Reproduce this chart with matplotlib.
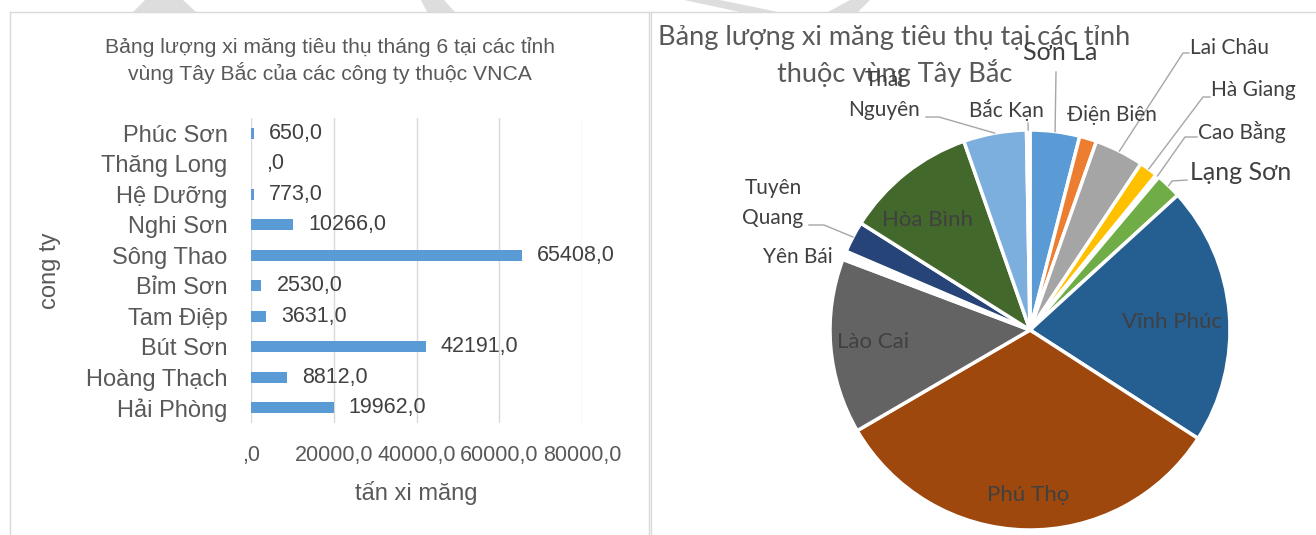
import numpy as np
import matplotlib.pyplot as plt
from matplotlib.patches import Polygon
from matplotlib.lines import Line2D

W, H = 1316, 535

# left chart: cement sold in June, by company
companies = ["Hải Phòng", "Hoàng Thạch", "Bút Sơn", "Tam Điệp", "Bỉm Sơn",
             "Sông Thao", "Nghi Sơn", "Hệ Dưỡng", "Thăng Long", "Phúc Sơn"]
tonnes = [19962, 8812, 42191, 3631, 2530, 65408, 10266, 773, 0, 650]
x_ticks = [0, 20000, 40000, 60000, 80000]

# right chart: cement sold by province
provinces = ["Sơn La", "Điện Biên", "Lai Châu", "Hà Giang", "Cao Bằng", "Lạng Sơn",
             "Vĩnh Phúc", "Phú Thọ", "Lào Cai", "Yên Bái", "Tuyên Quang",
             "Hòa Bình", "Thái Nguyên", "Bắc Kạn"]
province_tonnes = [6170, 2140, 6130, 2310, 430, 3210, 32220, 50080, 21800,
                   1070, 3900, 16450, 7840, 430]
pie_colors = ["#5B9BD5", "#ED7D31", "#A5A5A5", "#FFC000", "white", "#70AD47",
              "#255E91", "#9E480E", "#636363", "white", "#264478",
              "#43682B", "#7CAFDD", "#F1975A"]

ARIAL = ["Liberation Sans", "DejaVu Sans"]
CALI = ["Lato", "DejaVu Sans"]
GREY = "#595959"
DARK = "#404040"


def fx(x):
    return x / W


def fy(y):
    return 1 - y / H


def fmt(v):
    s = f"{v:.1f}".replace(".", ",")
    return s[1:] if s.startswith("0,") else s


fig = plt.figure(figsize=(W / 100, H / 100), dpi=100)
fig.patch.set_facecolor("white")

# faint watermark shapes above the chart frames
for poly in [[(133, 12), (145, 0), (183, 0), (196, 12)],
             [(421, 0), (444, 0), (455, 12), (427, 12)],
             [(684, 0), (720, 0), (778, 12), (740, 12)],
             [(850, 0), (870, 0), (858, 12), (828, 12)]]:
    fig.add_artist(Polygon([(fx(a), fy(b)) for a, b in poly], closed=True,
                           transform=fig.transFigure, facecolor="#DDDDDD",
                           edgecolor="none"))

# chart frames
for xs, ys in [((10, W), (12, 12)), ((10, 10), (12, H)), ((649, 649), (12, H)),
               ((651, 651), (12, H))]:
    fig.add_artist(Line2D([fx(v) for v in xs], [fy(v) for v in ys],
                          transform=fig.transFigure, color="#D9D9D9", lw=1))

# ---- bar chart ----
ax = fig.add_axes([fx(251), fy(423), (582 - 251) / W, 305 / H])
y = np.arange(len(companies))
ax.barh(y, tonnes, height=0.36, color="#5B9BD5")
ax.set_xlim(0, 80000)
ax.set_ylim(-0.5, len(companies) - 0.5)
ax.set_xticks(x_ticks)
ax.set_xticklabels([fmt(t) for t in x_ticks], fontsize=15.5, color=GREY,
                   family=ARIAL)
ax.set_yticks(y)
ax.set_yticklabels(companies, fontsize=17, color=GREY, family=ARIAL)
ax.tick_params(length=0)
ax.tick_params(axis="x", pad=16)
ax.tick_params(axis="y", pad=17)
ax.grid(axis="x", color="#D9D9D9", lw=1)
ax.set_axisbelow(True)
for s in ax.spines.values():
    s.set_visible(False)
for i, v in enumerate(tonnes):
    ax.annotate(fmt(v), xy=(v, i), xytext=(15, 0), textcoords="offset pixels",
                va="center", ha="left", fontsize=15.5, color=DARK, family=ARIAL)

fig.text(fx(330), fy(47), "Bảng lượng xi măng tiêu thụ tháng 6 tại các tỉnh",
         ha="center", va="center", fontsize=15.2, color=GREY, family=ARIAL)
fig.text(fx(330), fy(73), "vùng Tây Bắc của các công ty thuộc VNCA",
         ha="center", va="center", fontsize=15.2, color=GREY, family=ARIAL)
fig.text(fx(416), fy(493), "tấn xi măng", ha="center", va="center",
         fontsize=17, color=GREY, family=ARIAL)
fig.text(fx(50), fy(271), "cong ty", ha="center", va="center", rotation=90,
         fontsize=17, color=GREY, family=ARIAL)

# ---- pie chart ----
pax = fig.add_axes([0, 0, 1, 1])
cx, cy, r = 1030, 330, 200
wedges, _ = pax.pie(province_tonnes, colors=pie_colors, startangle=90,
                    counterclock=False, center=(cx, H - cy), radius=r,
                    wedgeprops=dict(edgecolor="white", linewidth=2.5))
pax.set_xlim(0, W)
pax.set_ylim(0, H)
pax.axis("off")

total = float(sum(province_tonnes))
mid = {}
acc = 0.0
for name, v in zip(provinces, province_tonnes):
    a = np.deg2rad((acc + v / 2) / total * 360)
    mid[name] = (cx + r * np.sin(a), H - (cy - r * np.cos(a)))
    acc += v


def ptxt(x, y, s, size=15, ha="center"):
    pax.text(x, H - y, s, ha=ha, va="center", fontsize=size, color=DARK,
             family=CALI)


def leader(name, pts):
    ex, ey = mid[name]
    xs = [p[0] for p in pts] + [ex]
    ys = [H - p[1] for p in pts] + [ey]
    pax.plot(xs, ys, color="#A6A6A6", lw=1)


pax.text(894, H - 37, "Bảng lượng xi măng tiêu thụ tại các tỉnh",
         ha="center", va="center", fontsize=19.5, color=GREY, family=CALI)
pax.text(895, H - 73, "thuộc vùng Tây Bắc", ha="center", va="center",
         fontsize=19.5, color=GREY, family=CALI)

ptxt(1060, 53, "Sơn La", size=18)
leader("Sơn La", [(1056, 72)])
ptxt(1190, 48, "Lai Châu", ha="left")
leader("Lai Châu", [(1189, 53), (1183, 53)])
ptxt(1211, 90, "Hà Giang", ha="left")
leader("Hà Giang", [(1210, 97), (1203, 97)])
ptxt(1198, 132, "Cao Bằng", ha="left")
leader("Cao Bằng", [(1197, 137), (1185, 137)])
ptxt(1190, 172, "Lạng Sơn", size=18, ha="left")
leader("Lạng Sơn", [(1187, 180), (1172, 181)])
ptxt(1112, 115, "Điện Biên")
ptxt(1006, 110, "Bắc Kạn")
leader("Bắc Kạn", [(1028, 123)])
ptxt(884, 80, "Thái")
ptxt(884, 110, "Nguyên")
leader("Thái Nguyên", [(926, 117), (939, 117)])
ptxt(773, 188, "Tuyên")
ptxt(773, 218, "Quang")
leader("Tuyên Quang", [(809, 225), (824, 225)])
ptxt(798, 257, "Yên Bái")
ptxt(928, 220, "Hòa Bình", size=16)
ptxt(1172, 322, "Vĩnh Phúc", size=16)
ptxt(873, 342, "Lào Cai", size=16)
ptxt(1028, 495, "Phú Thọ", size=16)

fig.savefig("out.png", dpi=100)
